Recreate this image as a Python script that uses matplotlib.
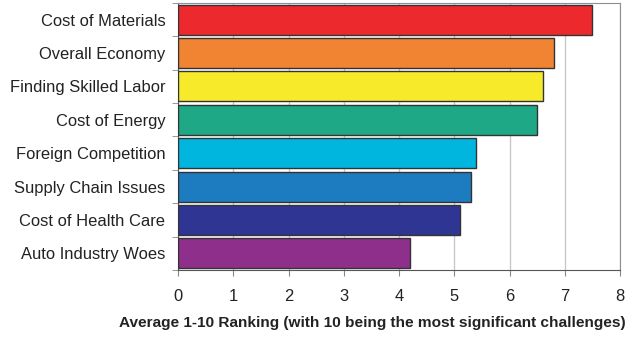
import matplotlib
matplotlib.use("Agg")
from matplotlib import pyplot as plt
import numpy as np

plt.rcParams['font.family'] = ['Liberation Sans', 'DejaVu Sans']

challenges = ["Cost of Materials", "Overall Economy", "Finding Skilled Labor",
              "Cost of Energy", "Foreign Competition", "Supply Chain Issues",
              "Cost of Health Care", "Auto Industry Woes"]
ranking = [7.5, 6.8, 6.6, 6.5, 5.4, 5.3, 5.1, 4.2]
colors = ["#EC2A2E", "#F08433", "#F7EA2A", "#1FA885",
          "#00B6DE", "#1D7BBF", "#2E3592", "#8E2F8C"]

fig = plt.figure(figsize=(6.33, 3.38), dpi=100)
ax = fig.add_axes([0.2812, 0.2012, 0.6983, 0.79])

y = np.arange(len(challenges))
ax.barh(y, ranking, height=0.9, color=colors, edgecolor="#333333", linewidth=1, zorder=3)
ax.set_ylim(len(challenges) - 0.5, -0.5)
ax.set_xlim(0, 8)

ax.set_yticks(y)
ax.set_yticklabels(challenges, fontsize=11.9, color="#222222")
ax.set_yticks(np.arange(len(challenges) + 1) - 0.5, minor=True)
ax.tick_params(axis="y", which="major", length=0, pad=9)
ax.tick_params(axis="y", which="minor", length=4, color="#888888", direction="out")

ax.set_xticks(range(9))
ax.tick_params(axis="x", length=4, color="#888888", direction="out", pad=10, labelsize=11.9,
               labelcolor="#222222")
ax.grid(axis="x", color="#c8c8c8", linewidth=1, zorder=0)

for side in ["left", "bottom"]:
    ax.spines[side].set_color("#555555")
for side in ["right", "top"]:
    ax.spines[side].set_color("#8a9096")

# label sits left of the axes centre, spanning under the category labels too
ax.set_xlabel("Average 1-10 Ranking (with 10 being the most significant challenges)",
              fontsize=11.1, fontweight="bold", color="#222222", labelpad=8, x=0.439)

fig.savefig("out.png", dpi=100)
